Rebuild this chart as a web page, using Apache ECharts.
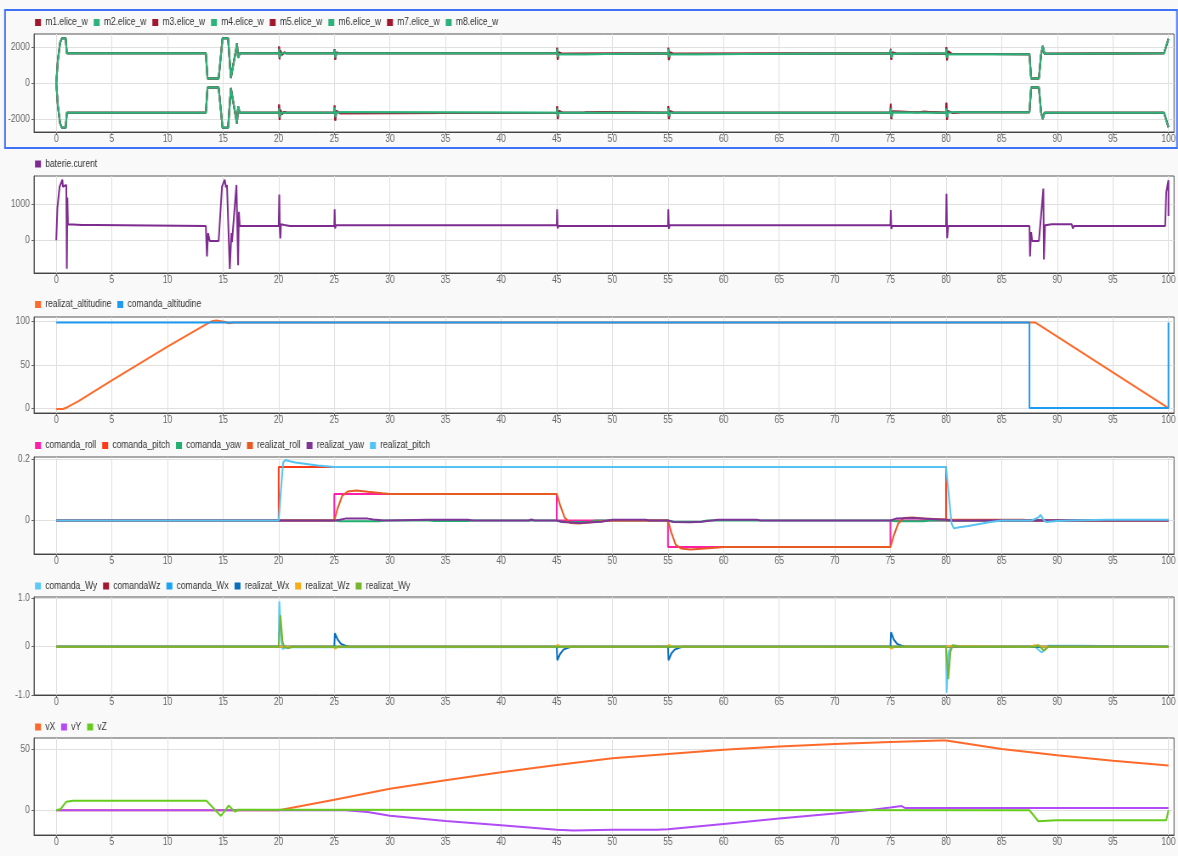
<!DOCTYPE html>
<html>
<head>
<meta charset="utf-8">
<title>simulare</title>
<script src="https://cdn.jsdelivr.net/npm/echarts@6/dist/echarts.min.js"></script>
<style>
  html, body { margin: 0; padding: 0; background: #f9f9f9; overflow: hidden; }
  /* captura originala e ingustata pe orizontala, asa ca desenam mai lat si strangem */
  #chart { width: 1386px; height: 856px; transform: scaleX(0.85); transform-origin: 0 0; }
</style>
</head>
<body>
<div id="chart"></div>
<script>
const SX = 0.85 // factor de ingustare pe x

// axa de timp, comuna pentru toate panourile
const xTicks = [0, 5, 10, 15, 20, 25, 30, 35, 40, 45, 50, 55, 60, 65, 70, 75, 80, 85, 90, 95, 100]

// 1. turatie elice [t, w]
const eliceSusVerde = [[0,0],[0.15,1300],[0.35,2250],[0.5,2480],[0.85,2480],[0.95,1650],[13.45,1650],[13.6,250],[14.6,250],[14.95,2480],[15.45,2480],[15.7,280],[15.8,280],[16.15,1800],[16.25,2200],[16.35,1400],[16.5,1650],[20,1650],[20.03,1900],[20.08,1420],[20.2,1650],[25,1650],[25.03,1850],[25.08,1400],[25.2,1650],[45,1650],[45.03,1900],[45.08,1450],[45.2,1600],[47.5,1600],[47.5,1650],[55,1650],[55.03,1900],[55.08,1450],[55.2,1600],[57.5,1600],[57.5,1650],[75,1650],[75.03,1850],[75.08,1400],[75.2,1620],[80,1650],[80.03,1900],[80.08,1400],[80.2,1600],[87.5,1600],[87.65,250],[88.35,250],[88.55,1600],[88.7,2050],[88.85,1620],[91.3,1620],[91.3,1650],[99.6,1650],[100,2450]]
const eliceJosVerde = [[0,0],[0.15,-1300],[0.35,-2250],[0.5,-2480],[0.85,-2480],[0.95,-1650],[13.45,-1650],[13.6,-250],[14.6,-250],[14.95,-2480],[15.45,-2480],[15.7,-280],[15.8,-280],[16.15,-1900],[16.25,-2250],[16.35,-1300],[16.5,-1650],[20,-1650],[20.03,-1400],[20.08,-1900],[20.2,-1650],[25,-1650],[25.03,-1350],[25.08,-1900],[25.2,-1620],[27.5,-1620],[27.5,-1650],[45,-1650],[45.03,-1400],[45.08,-1850],[45.2,-1650],[55,-1650],[55.03,-1400],[55.08,-1850],[55.2,-1650],[75,-1650],[75.03,-1400],[75.08,-1900],[75.2,-1620],[80,-1650],[80.03,-1400],[80.08,-1900],[80.2,-1620],[87.5,-1620],[87.65,-250],[88.35,-250],[88.55,-1650],[88.7,-2000],[88.85,-1650],[99.6,-1650],[100,-2450]]
const eliceSusRosu = [[0,0],[0.15,1300],[0.35,2250],[0.5,2480],[0.85,2480],[0.95,1650],[13.45,1650],[13.6,250],[14.6,250],[14.95,2480],[15.45,2480],[15.7,280],[15.8,280],[16.15,1800],[16.25,2200],[16.35,1400],[16.5,1650],[20,1650],[20.03,2020],[20.08,1320],[20.15,1800],[20.3,1560],[20.5,1700],[20.7,1650],[25,1650],[25.03,1880],[25.08,1300],[25.2,1700],[25.4,1650],[45,1650],[45.03,1950],[45.08,1300],[45.2,1700],[45.5,1620],[55,1650],[55.03,1950],[55.08,1280],[55.2,1700],[55.5,1620],[75,1650],[75.03,1900],[75.08,1300],[75.2,1700],[75.5,1640],[79,1620],[80,1620],[80.03,1980],[80.08,1260],[80.2,1750],[80.5,1620],[87.5,1600],[87.65,250],[88.35,250],[88.55,1600],[88.7,2050],[88.85,1620],[99.6,1650],[100,2450]]
const eliceJosRosu = [[0,0],[0.15,-1300],[0.35,-2250],[0.5,-2480],[0.85,-2480],[0.95,-1650],[13.45,-1650],[13.6,-250],[14.6,-250],[14.95,-2480],[15.45,-2480],[15.7,-280],[15.8,-280],[16.15,-1900],[16.25,-2250],[16.35,-1300],[16.5,-1650],[20,-1650],[20.03,-1200],[20.08,-2050],[20.15,-1500],[20.3,-1720],[20.5,-1600],[20.7,-1650],[25,-1650],[25.03,-1250],[25.08,-2080],[25.2,-1550],[25.5,-1680],[45,-1650],[45.03,-1300],[45.08,-2000],[45.2,-1550],[45.5,-1650],[47.5,-1640],[49,-1620],[55,-1650],[55.03,-1280],[55.08,-2000],[55.2,-1560],[55.5,-1650],[75,-1650],[75.03,-1150],[75.08,-2000],[75.2,-1580],[77.5,-1620],[78,-1600],[80,-1650],[80.03,-1100],[80.08,-2050],[80.2,-1560],[80.6,-1660],[81.3,-1620],[87.5,-1620],[87.65,-250],[88.35,-250],[88.55,-1650],[88.7,-2000],[88.85,-1650],[99.6,-1650],[100,-2450]]

// 2. curent baterie
const baterieCurent = [[0,0],[0.1,900],[0.3,1500],[0.55,1700],[0.6,1500],[0.65,1550],[0.9,1550],[0.95,-800],[1.0,1200],[1.05,450],[2.3,430],[3.5,430],[3.5,400],[13.45,400],[13.55,-450],[13.65,200],[13.8,-20],[14.6,-20],[14.9,1500],[15.15,1700],[15.25,1480],[15.35,1550],[15.5,1550],[15.6,-800],[15.75,200],[15.8,-50],[16.2,1550],[16.3,1600],[16.35,-700],[16.42,800],[16.5,400],[20,400],[20.05,1280],[20.1,300],[20.15,50],[20.2,450],[20.5,430],[21,400],[25,400],[25.03,870],[25.07,330],[25.15,420],[45,420],[45.03,870],[45.08,330],[45.15,400],[55,400],[55.03,870],[55.08,320],[55.15,420],[75,420],[75.03,850],[75.08,320],[75.15,400],[80,400],[80.04,1300],[80.1,60],[80.2,400],[87.5,400],[87.55,-450],[87.65,230],[87.75,-20],[88.35,-20],[88.75,1450],[88.8,-540],[88.9,420],[89.5,450],[91.3,450],[91.4,330],[91.5,400],[99.7,400],[99.8,1350],[100,1680],[100,680]]

// 3. altitudine
const realizatAltitudine = [[0,-1],[0.6,-1],[1.0,1],[2,8],[5,32],[10,71],[13.5,97],[14,100.5],[14.4,101.2],[14.8,100.5],[15.2,99.5],[15.5,98],[16,99],[87.5,99],[88,99],[88.5,95],[100,0]]
const comandaAltitudine = [[0,99],[87.5,99],[87.5,0],[100,0],[100,99]]

// 4. unghiuri
const comandaRoll = [[0,0],[25,0],[25,0.087],[45,0.087],[45,0],[55,0],[55,-0.087],[75,-0.087],[75,0],[100,0]]
const comandaPitch = [[0,0],[20,0],[20,0.175],[80,0.175],[80,0],[100,0]]
const comandaYaw = [[0,0],[25,0],[25.5,-0.003],[29,-0.003],[29.5,0],[33.5,0],[34,-0.002],[37,-0.002],[37.5,0],[45,0],[45.5,-0.005],[48,-0.005],[48.5,0],[55,0],[55.5,-0.004],[58,-0.004],[58.5,0],[75,0],[75.5,-0.003],[78,-0.003],[78.5,0],[100,0]]
const realizatRoll = [[0,0],[25,0],[25.3,0.04],[25.7,0.08],[26.2,0.095],[27,0.098],[28,0.094],[29.3,0.089],[30,0.087],[45,0.087],[45.3,0.05],[45.7,0.01],[46.2,-0.008],[47,-0.01],[48.5,-0.004],[50,0],[55,0],[55.3,-0.04],[55.7,-0.08],[56.2,-0.092],[57,-0.095],[58,-0.093],[59.5,-0.089],[60,-0.087],[75,-0.087],[75.3,-0.05],[75.7,-0.01],[76.2,0.008],[77,0.01],[78,0.006],[80,0.003],[81,0.002],[87,0.002],[87.5,0],[100,0]]
const realizatYaw = [[0,0],[25,0],[25.5,0.002],[26,0.006],[28,0.006],[28.5,0.003],[29.5,0],[33.5,0.002],[37,0.002],[37.5,0],[42.5,0],[42.7,0.003],[43,0],[45,0],[45.5,-0.005],[47,-0.008],[49,-0.004],[50,0.002],[53,0.002],[53.3,0],[55,0],[55.5,-0.005],[57,-0.006],[58,-0.004],[59.5,0.002],[63,0.002],[63.3,0],[75,0],[75.5,0.006],[77,0.008],[79,0.004],[80,0.002],[80.5,0],[86.5,0.001],[100,0]]
const realizatPitch = [[0,0],[20,0],[20.2,0.1],[20.4,0.19],[20.6,0.198],[21,0.194],[21.5,0.19],[22.5,0.185],[23.5,0.18],[25,0.175],[80,0.175],[80.2,0.1],[80.5,-0.01],[80.7,-0.026],[81.2,-0.022],[82,-0.018],[83,-0.012],[84,-0.005],[85,0],[87.7,0],[88.3,0.01],[88.5,0.018],[88.8,0.0],[89,-0.005],[90,-0.002],[91,0],[94.5,0.002],[100,0.002]]

// 5. viteze unghiulare
const comandaWy = [[0,0],[20,0],[20.05,0.94],[20.25,0.1],[20.35,-0.05],[20.6,-0.02],[21.3,-0.01],[21.4,0],[80,0],[80.05,-0.95],[80.25,-0.1],[80.5,0.02],[81,0.02],[81.3,0],[88,0],[88.6,-0.12],[88.9,-0.05],[89.2,0.02],[92,0.02],[92.05,0],[100,0]]
const comandaWz = [[0,0],[100,0]]
const comandaWx = [[0,0],[100,0]]
const realizatWx = [[0,0],[25,0],[25.05,0.28],[25.3,0.15],[25.6,0.06],[26,0.02],[26.3,0],[45,0],[45.05,-0.28],[45.3,-0.15],[45.6,-0.06],[46,-0.02],[46.3,0],[55,0],[55.05,-0.28],[55.3,-0.14],[55.6,-0.06],[56,-0.02],[56.3,0],[75,0],[75.05,0.3],[75.3,0.15],[75.6,0.06],[76,0.02],[76.3,0],[100,0]]
const realizatWz = [[0,0],[19.9,0],[20,0.01],[20.5,0],[24.9,0],[25.1,-0.04],[25.3,0],[44.9,0],[45.1,0.04],[45.3,0],[54.9,0],[55.1,0.04],[55.3,0],[74.9,0],[75.1,-0.04],[75.3,0],[79.9,0],[80.2,0.01],[87.5,0],[88,0.03],[88.4,0.02],[88.6,0],[100,0]]
const realizatWy = [[0,0],[20,0],[20.15,0.65],[20.35,0.1],[20.5,0],[20.8,-0.03],[21.2,0],[80,0],[80.2,-0.67],[80.4,-0.1],[80.6,0.03],[81,0.01],[81.3,0],[88,0],[88.3,0.03],[88.8,-0.08],[89.2,0],[100,0]]

// 6. viteze liniare
const vX = [[0,0],[20,0],[25,8.5],[30,17.5],[35,24.5],[40,31],[45,37],[50,42.5],[55,46],[60,49.5],[65,52],[70,54],[75,55.7],[79.5,57],[80,57],[85,50],[90,45],[95,40.4],[100,36.6]]
const vY = [[0,0],[26,0],[28,-1.5],[30,-4.4],[35,-8.7],[40,-12.3],[45,-16],[46.5,-16.5],[50,-16],[54,-16],[55,-15.5],[60,-11.2],[65,-6.8],[70,-2.7],[72.5,-0.5],[75,2.2],[76,3.4],[76.3,1.9],[100,1.9]]
const vZ = [[0,0],[0.4,1],[0.9,7],[1.5,7.8],[13.5,7.8],[14.1,2],[14.8,-4.6],[15.2,0],[15.5,3.8],[15.8,1],[16.1,-1.1],[16.3,0.5],[17,0.5],[17.1,0],[87.5,0],[88.3,-9],[89.9,-8.2],[99.8,-8.2],[100,0]]

const font = "'Liberation Sans', Arial, sans-serif"

// pozitiile panourilor (sus, jos) in pixeli
const panels = [
  { top: 34, bottom: 132, min: -2720, max: 2720, ticks: [-2000, 0, 2000], legendTop: 17.5 },
  { top: 176, bottom: 273, min: -916, max: 1801, ticks: [0, 1000], legendTop: 159 },
  { top: 317, bottom: 413, min: -5.7, max: 105.3, ticks: [0, 50, 100], legendTop: 299.5 },
  { top: 457, bottom: 554, min: -0.11, max: 0.208, ticks: [0, 0.2], legendTop: 440.5 },
  { top: 597, bottom: 695, min: -1, max: 1.03, ticks: [-1, 0, 1], legendTop: 581 },
  { top: 738, bottom: 835, min: -20.2, max: 59, ticks: [0, 50], legendTop: 722 }
]

function line(name, data, color, idx, width) {
  return {
    name: name,
    type: 'line',
    data: data,
    xAxisIndex: idx,
    yAxisIndex: idx,
    showSymbol: false,
    symbol: 'none',
    lineStyle: { color: color, width: width || 2 },
    itemStyle: { color: color },
    emphasis: { disabled: true },
    animation: false
  }
}

const series = [
  line('m1.elice_w', eliceSusRosu, '#a0172e', 0),
  line('m2.elice_w', eliceSusVerde, '#2bb37b', 0),
  line('m3.elice_w', eliceJosRosu, '#a0172e', 0),
  line('m4.elice_w', eliceJosVerde, '#2bb37b', 0),
  line('m5.elice_w', eliceSusRosu, '#a0172e', 0),
  line('m6.elice_w', eliceSusVerde, '#2bb37b', 0),
  line('m7.elice_w', eliceJosRosu, '#a0172e', 0),
  line('m8.elice_w', eliceJosVerde, '#2bb37b', 0),

  line('baterie.curent', baterieCurent, '#7e2b8f', 1),

  line('realizat_altitudine', realizatAltitudine, '#ff6a2a', 2),
  line('comanda_altitudine', comandaAltitudine, '#1d9bf0', 2),

  line('comanda_roll', comandaRoll, '#ff1ea8', 3),
  line('comanda_pitch', comandaPitch, '#ff3b16', 3),
  line('comanda_yaw', comandaYaw, '#22b070', 3),
  line('realizat_roll', realizatRoll, '#e85a24', 3),
  line('realizat_yaw', realizatYaw, '#7d3596', 3),
  line('realizat_pitch', realizatPitch, '#55c3f2', 3),

  line('comanda_Wy', comandaWy, '#5ccaf5', 4),
  line('comandaWz', comandaWz, '#a3172f', 4),
  line('comanda_Wx', comandaWx, '#1ba3f5', 4),
  line('realizat_Wx', realizatWx, '#0a6ebd', 4),
  line('realizat_Wz', realizatWz, '#f5ae17', 4),
  line('realizat_Wy', realizatWy, '#75b530', 4),

  line('vX', vX, '#ff6a2a', 5),
  line('vY', vY, '#b14bf5', 5),
  line('vZ', vZ, '#66cc1c', 5)
]

const legendNames = [
  ['m1.elice_w', 'm2.elice_w', 'm3.elice_w', 'm4.elice_w', 'm5.elice_w', 'm6.elice_w', 'm7.elice_w', 'm8.elice_w'],
  ['baterie.curent'],
  ['realizat_altitudine', 'comanda_altitudine'],
  ['comanda_roll', 'comanda_pitch', 'comanda_yaw', 'realizat_roll', 'realizat_yaw', 'realizat_pitch'],
  ['comanda_Wy', 'comandaWz', 'comanda_Wx', 'realizat_Wx', 'realizat_Wz', 'realizat_Wy'],
  ['vX', 'vY', 'vZ']
]

const chart = echarts.init(document.getElementById('chart'))
chart.setOption({
  backgroundColor: '#f9f9f9',
  textStyle: { fontFamily: font },
  graphic: [{
    type: 'rect',
    shape: { x: 5 / SX, y: 10, width: 1172 / SX, height: 138 },
    style: { fill: 'none', stroke: '#3f73f5', lineWidth: 2 },
    z: 100
  }],
  legend: panels.map((p, i) => ({
    data: legendNames[i],
    left: 35 / SX,
    top: p.legendTop,
    padding: 0,
    icon: 'rect',
    itemWidth: 7,
    itemHeight: 7,
    itemGap: 7,
    textStyle: { fontSize: 10, color: '#333', fontFamily: font }
  })),
  grid: panels.map(p => ({
    left: 34 / SX,
    width: 1143 / SX,
    top: p.top,
    height: p.bottom - p.top,
    show: true,
    backgroundColor: '#fff',
    borderColor: '#555',
    borderWidth: 1
  })),
  xAxis: panels.map((p, i) => ({
    type: 'value',
    gridIndex: i,
    min: -2,
    max: 100.5,
    axisLine: { onZero: false, lineStyle: { color: '#444' } },
    axisTick: { show: true, length: 3, customValues: xTicks, lineStyle: { color: '#666' } },
    axisLabel: { customValues: xTicks, fontSize: 10, color: '#666', margin: 2, fontFamily: font },
    splitLine: { show: true, lineStyle: { color: '#e0e0e0' } }
  })),
  yAxis: panels.map((p, i) => ({
    type: 'value',
    gridIndex: i,
    min: p.min,
    max: p.max,
    axisLine: { show: true, onZero: false, lineStyle: { color: '#555' } },
    axisTick: { show: true, length: 3, customValues: p.ticks, lineStyle: { color: '#666' } },
    axisLabel: {
      customValues: p.ticks,
      fontSize: 10,
      color: '#666',
      margin: 5,
      fontFamily: font,
      formatter: v => (i === 4 && v !== 0 ? v.toFixed(1) : String(v))
    },
    splitLine: { show: true, lineStyle: { color: '#e0e0e0' } }
  })),
  series: series
})
</script>
</body>
</html>
